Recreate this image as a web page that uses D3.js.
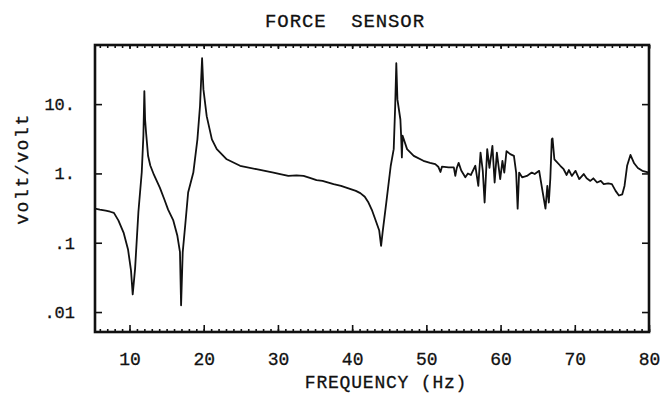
<!DOCTYPE html>
<html>
<head>
<meta charset="utf-8">
<script src="https://cdn.jsdelivr.net/npm/d3@7"></script>
<style>
  body { margin: 0; background: #fff; }
  svg { display: block; }
  text { font-family: "Liberation Mono", "Courier New", monospace; fill: #111; stroke: #111; stroke-width: 0.3px; white-space: pre; }
</style>
</head>
<body>
<svg id="chart" width="664" height="399"></svg>
<script>
// frequency (Hz) and magnitude (volt/volt)
var freq = [5.35, 6.0, 6.8, 7.4, 7.9, 8.5, 9.2, 9.8, 10.2, 10.43, 10.75, 11.2, 11.65, 11.87, 12.0, 12.1, 12.23, 12.5,
  12.8, 13.3, 14.1, 14.7, 15.2, 15.9, 16.45, 16.8, 16.95, 17.17, 17.5, 17.9, 18.6, 19.15, 19.5, 19.78, 19.96,
  20.4, 21.1, 21.76, 23.1, 24.9, 27.1, 29.4, 30.3, 31.4, 32.5, 33.45, 34.3, 35.2, 36.0, 37.5, 38.5, 39.7, 40.5,
  41.1, 41.7, 42.2, 42.7, 43.1, 43.65, 43.9, 44.1, 44.6, 45.2, 45.6, 45.8, 45.95, 46.1, 46.5, 46.6, 46.7, 46.8,
  47.4, 48.3, 49.6, 50.5, 51.2, 51.6, 51.9, 52.1, 53.0, 53.7, 53.9, 54.1, 54.35, 54.7, 55.25, 55.6, 56.0, 56.6,
  57.0, 57.3, 57.6, 57.85, 58.2, 58.5, 58.9, 59.2, 59.5, 59.95, 60.25, 60.5, 60.8, 61.3, 61.8, 62.1, 62.3, 62.5,
  62.9, 63.55, 64.2, 64.6, 65.2, 65.6, 66.05, 66.3, 66.5, 66.7, 66.9, 67.0, 67.25, 68.05, 68.5, 68.9, 69.2, 69.6,
  70.1, 70.6, 71.2, 71.6, 72.1, 72.5, 73.0, 73.5, 73.9, 74.5, 75.0, 75.5, 75.95, 76.4, 76.7, 77.05, 77.5, 78.0,
  78.5, 79.1, 80.0];
var mag = [0.31, 0.30, 0.29, 0.28, 0.27, 0.21, 0.14, 0.08, 0.04, 0.018, 0.042, 0.28, 1.04, 3.5, 15.4, 6.0, 3.9, 1.8,
  1.3, 0.95, 0.62, 0.42, 0.30, 0.21, 0.126, 0.073, 0.0125, 0.073, 0.176, 0.53, 1.03, 3.1, 9.4, 46, 16.3,
  6.7, 3.1, 2.24, 1.6, 1.29, 1.15, 1.03, 0.98, 0.92, 0.94, 0.92, 0.86, 0.80, 0.78, 0.70, 0.66, 0.60, 0.56,
  0.52, 0.46, 0.38, 0.29, 0.22, 0.15, 0.09, 0.14, 0.38, 1.29, 2.24, 9.4, 39, 11.7, 6.0, 3.5, 1.7, 3.5,
  2.24, 1.79, 1.52, 1.42, 1.36, 1.25, 1.05, 1.25, 1.22, 1.22, 0.92, 1.2, 1.42, 1.1, 0.88, 1.0, 0.95, 1.29,
  0.66, 2.0, 1.1, 0.38, 2.24, 1.2, 2.5, 0.74, 2.0, 0.83, 1.52, 1.03, 2.1, 1.9, 1.79, 1.03, 0.31, 1.03,
  0.88, 0.92, 1.03, 0.98, 1.09, 0.60, 0.31, 0.66, 0.38, 0.83, 3.1, 3.2, 1.6, 1.29, 1.15, 0.95, 1.12, 0.92,
  1.09, 0.83, 0.98, 0.85, 0.78, 0.85, 0.74, 0.78, 0.70, 0.72, 0.70, 0.56, 0.48, 0.50, 0.66, 1.29, 1.85, 1.4,
  1.2, 1.09, 1.03];

var xTicks = [10, 20, 30, 40, 50, 60, 70, 80];
var yTicks = [10, 1, 0.1, 0.01];
var yLabels = ["10.", "1.", ".1", ".01"];

(function() {
  var svg = d3.select("#chart");
  var mLeft = 95, mRight = 649, mTop = 45, mBottom = 332;

  var x = d3.scaleLinear().domain([5.35, 80]).range([mLeft, mRight]);
  var y = d3.scaleLog().domain([Math.pow(10, -2.288), Math.pow(10, 1.853)]).range([mBottom, mTop]);

  function noDomain(g) { g.select(".domain").remove(); }

  // minor ticks, 1 Hz apart, top and bottom
  var minor = d3.range(6, 81);
  svg.append("g")
      .attr("transform", "translate(0," + mBottom + ")")
      .call(d3.axisBottom(x).tickValues(minor).tickSize(-3).tickFormat(""))
      .call(noDomain);
  svg.append("g")
      .attr("transform", "translate(0," + mTop + ")")
      .call(d3.axisTop(x).tickValues(minor).tickSize(-3).tickFormat(""))
      .call(noDomain);

  // major x ticks
  svg.append("g")
      .attr("class", "xaxis")
      .attr("transform", "translate(0," + mBottom + ")")
      .call(d3.axisBottom(x).tickValues(xTicks).tickSize(-7).tickPadding(20).tickFormat(d3.format("d")))
      .call(noDomain);
  svg.append("g")
      .attr("transform", "translate(0," + mTop + ")")
      .call(d3.axisTop(x).tickValues(xTicks).tickSize(-4).tickFormat(""))
      .call(noDomain);

  // y ticks
  svg.append("g")
      .attr("class", "yaxis")
      .attr("transform", "translate(" + mLeft + ",0)")
      .call(d3.axisLeft(y).tickValues(yTicks).tickSize(-7).tickPadding(20)
        .tickFormat(function(d, i) { return yLabels[i]; }))
      .call(noDomain);
  svg.append("g")
      .attr("transform", "translate(" + mRight + ",0)")
      .call(d3.axisRight(y).tickValues(yTicks).tickSize(-7).tickFormat(""))
      .call(noDomain);

  svg.selectAll(".tick line").attr("stroke", "#111").attr("stroke-width", 1.6);
  svg.selectAll(".xaxis text").style("font-size", "18px").attr("fill", "#111");
  svg.selectAll(".yaxis text").style("font-size", "17px").attr("fill", "#111");

  // frame
  svg.append("rect")
      .attr("x", mLeft).attr("y", mTop)
      .attr("width", mRight - mLeft).attr("height", mBottom - mTop)
      .attr("fill", "none").attr("stroke", "#111").attr("stroke-width", 2.6);

  // trace
  var pts = freq.map(function(f, i) { return [f, mag[i]]; });
  var line = d3.line()
      .x(function(d) { return x(d[0]); })
      .y(function(d) { return y(d[1]); });
  svg.append("path")
      .datum(pts)
      .attr("d", line)
      .attr("fill", "none")
      .attr("stroke", "#111")
      .attr("stroke-width", 1.8)
      .attr("stroke-linejoin", "round");

  // titles
  svg.append("text")
      .attr("x", 345).attr("y", 27)
      .attr("text-anchor", "middle")
      .attr("xml:space", "preserve")
      .style("font-size", "19px").style("letter-spacing", "0.9px")
      .text("FORCE  SENSOR");
  svg.append("text")
      .attr("x", 386).attr("y", 388)
      .attr("text-anchor", "middle")
      .style("font-size", "18px").style("letter-spacing", "0.8px")
      .text("FREQUENCY (Hz)");
  svg.append("text")
      .attr("transform", "translate(28,169)rotate(-90)")
      .attr("text-anchor", "middle")
      .style("font-size", "18px").style("letter-spacing", "1.6px")
      .text("volt/volt");
})();
</script>
</body>
</html>
